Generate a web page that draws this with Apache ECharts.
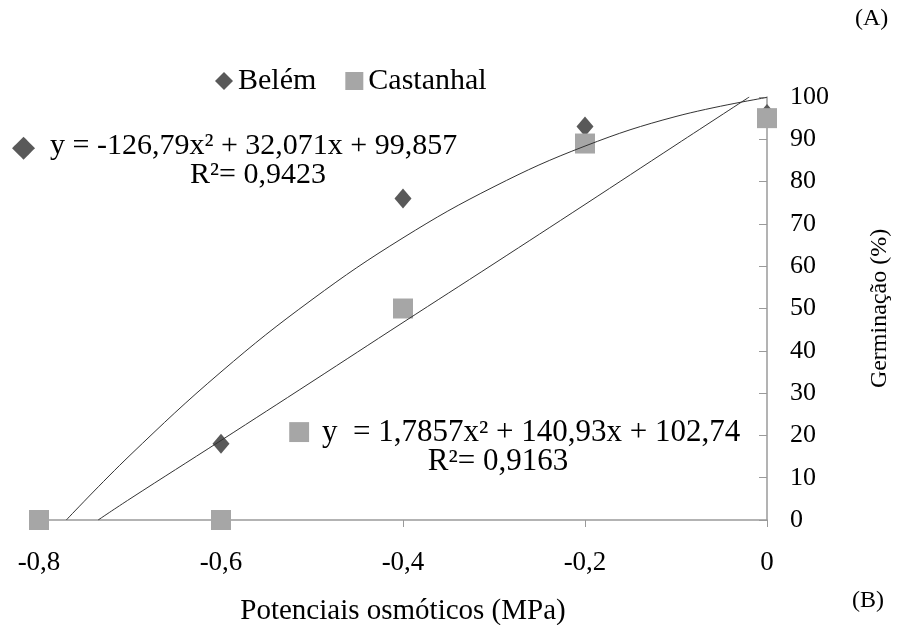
<!DOCTYPE html>
<html>
<head>
<meta charset="utf-8">
<script src="https://cdn.jsdelivr.net/npm/echarts@6/dist/echarts.min.js"></script>
<style>html,body{margin:0;padding:0;background:#fff}#c{width:919px;height:625px}</style>
</head>
<body>
<div id="c"></div>
<script>
// Data
const xValues = [-0.8, -0.6, -0.4, -0.2, 0];
const belem = [0, 18, 76, 93, 96];
const castanhal = [0, 0, 50, 89, 95];
// Trend lines (they follow the printed equations)
const belemFitX = [-0.77, -0.7, -0.6, -0.5, -0.4, -0.3, -0.2, -0.1, 0];
const belemFitY = [0, 15.3, 35.0, 52.1, 66.7, 78.8, 88.4, 95.4, 99.9];
const castFitX = [-0.735, -0.7, -0.6, -0.5, -0.4, -0.3, -0.2, -0.1, -0.0195];
const castFitY = [0, 5.0, 18.8, 32.7, 46.7, 60.6, 74.6, 88.7, 100];
const seriesNames = ['Belém', 'Castanhal'];
const eq1 = 'y = -126,79x² + 32,071x + 99,857';
const r1 = 'R²= 0,9423';
const eq2 = 'y  = 1,7857x² + 140,93x + 102,74';
const r2 = 'R²= 0,9163';

const serif = '"Liberation Serif", "DejaVu Serif", serif';
const txt = '#000';
const dark = '#595959';
const light = '#a6a6a6';
const zip = (a, b) => a.map((v, i) => [v, b[i]]);

const chart = echarts.init(document.getElementById('c'));
chart.setOption({
  animation: false,
  backgroundColor: '#fff',
  grid: { left: 39, right: 152, top: 97, bottom: 105, outerBoundsMode: 'none', containLabel: false },
  legend: {
    left: 210, top: 61, itemGap: 29, itemWidth: 18, itemHeight: 18,
    data: seriesNames,
    textStyle: { fontFamily: serif, fontSize: 30, color: txt }
  },
  xAxis: {
    type: 'value', min: -0.8, max: 0, interval: 0.2,
    name: 'Potenciais osmóticos (MPa)', nameLocation: 'middle', nameGap: 77,
    nameTextStyle: { fontFamily: serif, fontSize: 29, color: txt },
    axisLine: { lineStyle: { color: '#9a9a9a', width: 1.5 } },
    axisTick: { show: true, length: 7, lineStyle: { color: '#9a9a9a' } },
    axisLabel: { margin: 29, fontFamily: serif, fontSize: 27, color: txt,
      formatter: v => String(Math.round(v * 10) / 10).replace('.', ',') },
    splitLine: { show: false }
  },
  yAxis: {
    type: 'value', position: 'right', min: 0, max: 100, interval: 10,
    name: 'Germinação (%)', nameLocation: 'middle', nameGap: 101, nameRotate: 90,
    nameTextStyle: { fontFamily: serif, fontSize: 24, color: txt },
    axisLine: { show: true, lineStyle: { color: '#9a9a9a', width: 1.5 } },
    axisTick: { show: true, inside: true, length: 8, lineStyle: { color: '#9a9a9a' } },
    axisLabel: { margin: 23, fontFamily: serif, fontSize: 26, color: txt },
    splitLine: { show: false }
  },
  series: [
    { name: seriesNames[0], type: 'scatter', symbol: 'diamond', symbolSize: [17, 20],
      itemStyle: { color: dark, opacity: 1 }, z: 1, data: zip(xValues, belem) },
    { name: seriesNames[1], type: 'scatter', symbol: 'rect', symbolSize: 20,
      itemStyle: { color: light, opacity: 1 }, z: 2, data: zip(xValues, castanhal) },
    { type: 'line', smooth: 0.4, showSymbol: false, z: 3, silent: true,
      lineStyle: { color: '#333', width: 1 }, data: zip(belemFitX, belemFitY) },
    { type: 'line', smooth: 0.4, showSymbol: false, z: 3, silent: true,
      lineStyle: { color: '#333', width: 1 }, data: zip(castFitX, castFitY) }
  ],
  graphic: [
    { type: 'text', left: 855, top: 7, style: { text: '(A)', font: '24px ' + serif, fill: txt } },
    { type: 'text', left: 852, top: 589, style: { text: '(B)', font: '24px ' + serif, fill: txt } },
    { type: 'text', left: 12, top: 133, style: { text: '◆', font: '30px "DejaVu Sans"', fill: dark } },
    { type: 'text', x: 50, y: 146, style: { text: eq1, font: '30px ' + serif, fill: txt, verticalAlign: 'middle' } },
    { type: 'text', x: 258, y: 175, style: { text: r1, font: '30px ' + serif, fill: txt, align: 'center', verticalAlign: 'middle' } },
    { type: 'text', left: 287, top: 419, style: { text: '■', font: '26px "DejaVu Sans"', fill: light } },
    { type: 'text', x: 322, y: 433, style: { text: eq2, font: '31px ' + serif, fill: txt, verticalAlign: 'middle' } },
    { type: 'text', x: 498, y: 462, style: { text: r2, font: '31px ' + serif, fill: txt, align: 'center', verticalAlign: 'middle' } }
  ]
});
</script>
</body>
</html>
